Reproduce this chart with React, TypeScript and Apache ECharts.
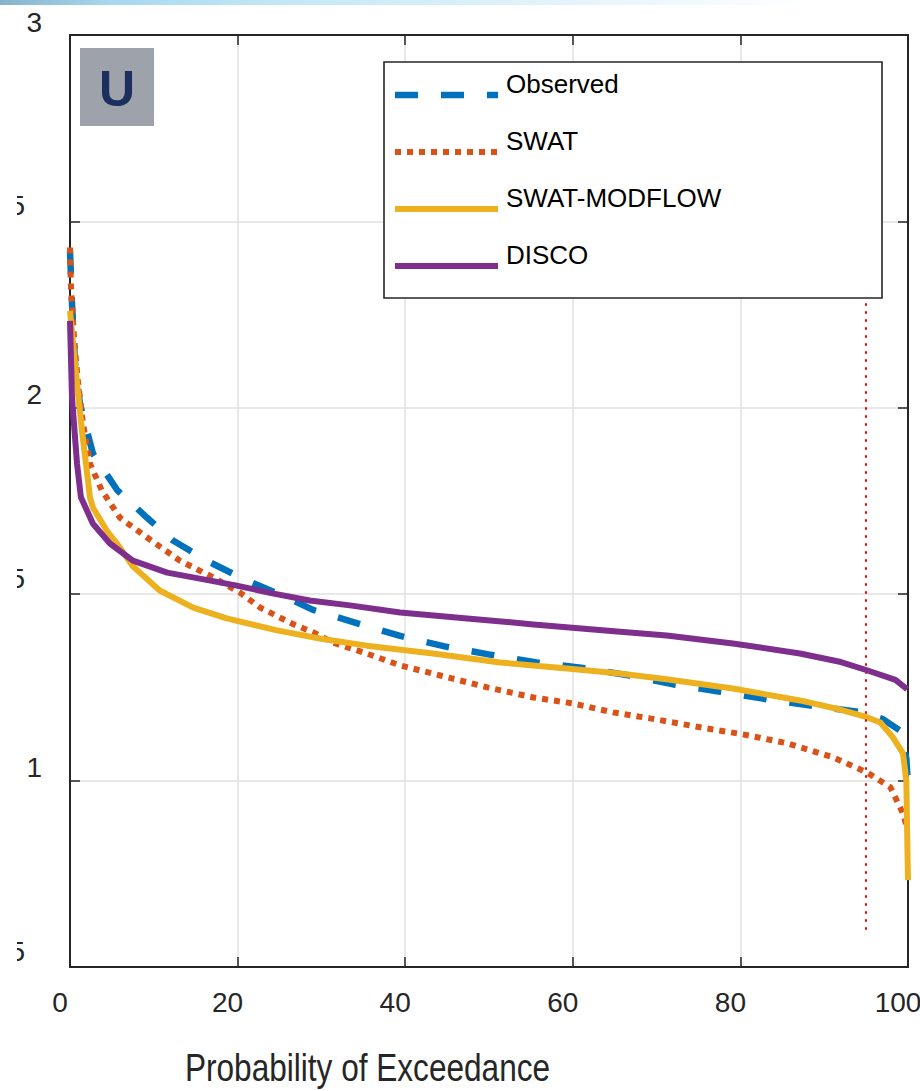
import React, { useEffect, useRef } from "react";
import * as echarts from "echarts";

// ---------- data ----------
const seriesNames = ["Observed", "SWAT", "SWAT-MODFLOW", "DISCO"];
const seriesColors = ["#0072BD", "#D95319", "#EDB120", "#7E2F8E"];

const xTicks = [0, 20, 40, 60, 80, 100];
const yTicks = [0.5, 1, 1.5, 2, 2.5, 3];

const observed: number[][] = [
  [0, 2.42], [0.24, 2.28], [0.6, 2.12], [1.19, 2.01], [2.74, 1.877], [5.6, 1.78],
  [9.2, 1.705], [12.3, 1.644], [16.3, 1.59], [20.6, 1.542], [25.9, 1.491], [29, 1.458],
  [34, 1.424], [39.4, 1.388], [44.7, 1.36], [50.1, 1.338], [55.7, 1.317], [61.2, 1.302],
  [66.8, 1.282], [72, 1.258], [77.6, 1.238], [83.2, 1.218], [88.7, 1.2], [94.3, 1.184],
  [97, 1.165], [99, 1.135], [99.8, 1.06], [100, 0.99],
];

const swat: number[][] = [
  [0, 2.43], [0.1, 2.33], [0.5, 2.18], [0.95, 2.07], [1.55, 1.957], [2.39, 1.85],
  [3.8, 1.778], [5.97, 1.705], [9.2, 1.652], [13.1, 1.59], [17.1, 1.545], [20.3, 1.504],
  [22.7, 1.464], [26.6, 1.42], [29, 1.398], [31.4, 1.37], [35.4, 1.341], [39.4, 1.309],
  [44.2, 1.282], [49.8, 1.25], [55.3, 1.223], [60, 1.207], [64.8, 1.183], [69.2, 1.167],
  [75.2, 1.143], [80.3, 1.124], [85.6, 1.1], [91, 1.063], [95.1, 1.022], [97.9, 0.982],
  [99.4, 0.912], [99.8, 0.88],
];

const swatModflow: number[][] = [
  [0, 2.26], [0.6, 2.118], [1.43, 1.938], [2.39, 1.759], [2.74, 1.732], [4.4, 1.67],
  [5.6, 1.636], [7.5, 1.575], [10.7, 1.51], [14.7, 1.464], [18.7, 1.435], [24.7, 1.403],
  [29.8, 1.381], [35.4, 1.362], [43.3, 1.341], [51.3, 1.317], [59.3, 1.301], [65.3, 1.288],
  [71.2, 1.272], [79.1, 1.247], [87.1, 1.215], [92, 1.19], [95.1, 1.17], [96.7, 1.156],
  [98.2, 1.116], [99.4, 1.073], [99.8, 1.0], [99.9, 0.86], [100, 0.733],
];

const disco: number[][] = [
  [0, 2.233], [0.24, 2.027], [0.84, 1.85], [1.3, 1.76], [2.74, 1.689], [4.77, 1.636],
  [7.5, 1.59], [11.6, 1.558], [16.6, 1.537], [19.9, 1.523], [24, 1.503], [28.6, 1.483],
  [33.4, 1.47], [39.4, 1.451], [47.4, 1.435], [55.3, 1.419], [65.3, 1.4], [71.2, 1.389],
  [79.1, 1.368], [87.1, 1.341], [92, 1.318], [95.1, 1.296], [98.5, 1.27], [99.9, 1.245],
];

const refLineX = 95;
const refLineFrom = 0.6;
const refLineTo = 2.35;

const xAxisTitle = "Probability of Exceedance";
const panelLabel = "U";

// ---------- styles ----------
const FONT = "Arial, 'Liberation Sans', Helvetica, sans-serif";
const OX = 17; // chart div offset (left part of the figure is cropped)
const AXIS_COLOR = "#262626";
const dashes: (number[] | "solid")[] = [[23, 23], [6, 6], "solid", "solid"];
const widths = [6.5, 6, 6, 6];

export default function App() {
  const ref = useRef<HTMLDivElement>(null);

  useEffect(() => {
    if (!ref.current) return;
    const chart = echarts.init(ref.current, null, { renderer: "svg" });
    const datasets = [observed, swat, swatModflow, disco];

    const legendItems: any[] = [];
    legendItems.push({
      type: "rect",
      z: 100,
      shape: { x: 384 - OX, y: 62, width: 498, height: 236 },
      style: { fill: "#ffffff", stroke: AXIS_COLOR, lineWidth: 1.6 },
    });
    seriesNames.forEach((name, i) => {
      const dash = dashes[i];
      legendItems.push({
        type: "line",
        z: 101,
        shape: { x1: 395 - OX, y1: 95 + 57 * i, x2: 498 - OX, y2: 95 + 57 * i },
        style: {
          stroke: seriesColors[i],
          lineWidth: widths[i],
          lineDash: dash === "solid" ? null : dash,
          lineCap: "butt",
        },
      });
      legendItems.push({
        type: "text",
        z: 101,
        x: 506 - OX,
        y: 84 + 57 * i,
        style: {
          text: name,
          font: `26px ${FONT}`,
          fill: "#000000",
          align: "left",
          verticalAlign: "middle",
          textAlign: "left",
          textVerticalAlign: "middle",
        },
      });
    });

    const option: any = {
      animation: false,
      backgroundColor: "transparent",
      grid: { left: 70 - OX, right: 12, top: 35, bottom: 124, outerBoundsMode: "none", containLabel: false },
      xAxis: [
        {
          type: "value",
          position: "bottom",
          min: 0,
          max: 100,
          interval: 20,
          axisLine: { show: true, onZero: false, lineStyle: { color: AXIS_COLOR, width: 2 } },
          axisTick: { show: true, inside: true, length: 10, lineStyle: { color: AXIS_COLOR, width: 1.5 } },
          axisLabel: {
            show: true,
            margin: 21,
            fontSize: 28,
            fontFamily: FONT,
            color: AXIS_COLOR,
            padding: [0, 20, 0, 0],
            formatter: (v: number) => (xTicks.includes(v) ? String(v) : ""),
          },
          splitLine: { show: true, lineStyle: { color: "#e0e0e0", width: 1.5 } },
        },
        {
          type: "value",
          position: "top",
          min: 0,
          max: 100,
          interval: 20,
          axisLine: { show: true, onZero: false, lineStyle: { color: AXIS_COLOR, width: 2 } },
          axisTick: { show: true, inside: true, length: 10, lineStyle: { color: AXIS_COLOR, width: 1.5 } },
          axisLabel: { show: false },
          splitLine: { show: false },
        },
      ],
      yAxis: [
        {
          type: "value",
          position: "left",
          min: 0.5,
          max: 3,
          interval: 0.5,
          axisLine: { show: true, onZero: false, lineStyle: { color: AXIS_COLOR, width: 2 } },
          axisTick: { show: true, inside: true, length: 10, lineStyle: { color: AXIS_COLOR, width: 1.5 } },
          axisLabel: {
            show: true,
            margin: 28,
            formatter: (v: number) => {
              if (!yTicks.includes(v)) return "";
              return Number.isInteger(v) ? `{n|${v}}` : `{h|${v}}`;
            },
            rich: {
              n: { fontSize: 28, fontFamily: FONT, color: AXIS_COLOR, padding: [0, 0, 26, 0] },
              h: { fontSize: 28, fontFamily: FONT, color: AXIS_COLOR, padding: [0, 17, 32, 0] },
            },
          },
          splitLine: { show: true, lineStyle: { color: "#e0e0e0", width: 1.5 } },
        },
        {
          type: "value",
          position: "right",
          min: 0.5,
          max: 3,
          interval: 0.5,
          axisLine: { show: true, onZero: false, lineStyle: { color: AXIS_COLOR, width: 2 } },
          axisTick: { show: true, inside: true, length: 10, lineStyle: { color: AXIS_COLOR, width: 1.5 } },
          axisLabel: { show: false },
          splitLine: { show: false },
        },
      ],
      series: seriesNames.map((name, i) => ({
        name,
        type: "line",
        xAxisIndex: 0,
        yAxisIndex: 0,
        data: datasets[i],
        symbol: "none",
        showSymbol: false,
        clip: false,
        silent: true,
        z: 2 + i,
        lineStyle: {
          color: seriesColors[i],
          width: widths[i],
          type: dashes[i],
          cap: "butt",
          join: "round",
        },
        markLine:
          i === 0
            ? {
                silent: true,
                symbol: ["none", "none"],
                label: { show: false },
                lineStyle: { color: "#ff0000", width: 2, type: [2.5, 5.5] },
                data: [[{ coord: [refLineX, refLineFrom] }, { coord: [refLineX, refLineTo] }]],
              }
            : undefined,
      })),
      graphic: [
        {
          type: "rect",
          z: 100,
          shape: { x: 80 - OX, y: 48, width: 74, height: 78 },
          style: { fill: "#9ea2ab" },
        },
        {
          type: "text",
          z: 101,
          x: 117 - OX,
          y: 89,
          style: {
            text: panelLabel,
            font: `bold 50px ${FONT}`,
            fill: "#1c2f5f",
            align: "center",
            verticalAlign: "middle",
            textAlign: "center",
            textVerticalAlign: "middle",
          },
        },
        {
          type: "text",
          z: 101,
          x: 367.5 - OX,
          y: 1068,
          scaleX: 0.81,
          style: {
            text: xAxisTitle,
            font: `39px ${FONT}`,
            fill: AXIS_COLOR,
            align: "center",
            verticalAlign: "middle",
            textAlign: "center",
            textVerticalAlign: "middle",
          },
        },
        ...legendItems,
      ],
    };

    chart.setOption(option);
    return () => chart.dispose();
  }, []);

  return (
    <div style={{ position: "absolute", left: 0, top: 0, width: 920, height: 1091, background: "#ffffff", overflow: "hidden" }}>
      <div ref={ref} style={{ position: "absolute", left: OX, top: 0, width: 920 - OX, height: 1091 }} />
      <div
        style={{
          position: "absolute",
          left: 0,
          top: 0,
          width: 920,
          height: 5,
          background:
            "linear-gradient(to right, #86b3cc 0%, #a6d8ef 12%, #c2e7f6 30%, #e3f3fa 60%, #ffffff 88%)",
        }}
      />
    </div>
  );
}
